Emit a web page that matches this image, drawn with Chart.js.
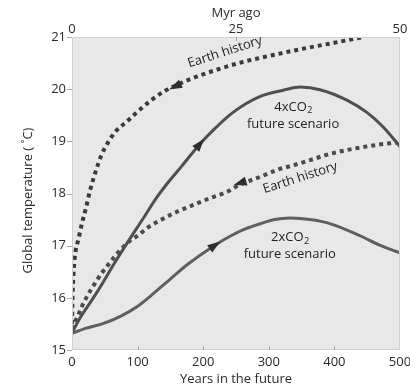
<!DOCTYPE html>
<html><head><meta charset="utf-8">
<script src="https://cdn.jsdelivr.net/npm/chart.js@4"></script>
<style>html,body{margin:0;padding:0;background:#fff;}#wrap{width:410px;height:389px;}</style>
</head><body><div id="wrap"><canvas id="c" width="410" height="389"></canvas></div>
<script>
// ---------- data ----------
const yearTicksMax = 500;         // bottom axis: years in the future
const myrTicksMax = 50;           // top axis: Myr ago
const tempMin = 15, tempMax = 21; // y axis (°C)
const yTitle = 'Global temperature ( ˚C)';

// Earth history (upper dotted), x = Myr ago
const earthUpperMyr  = [0, 0.05, 0.15, 0.3, 0.55, 0.96, 1.5, 2.1, 2.8, 3.6, 4.5, 5.5, 6.8, 8.3, 10.0, 12.0, 14.2, 16.5, 19.0, 22.0, 26.0, 30.5, 35.0, 40.0, 44.5];
const earthUpperTemp = [15.5, 15.85, 16.25, 16.6, 16.9, 17.11, 17.42, 17.71, 18.08, 18.42, 18.74, 18.98, 19.21, 19.37, 19.57, 19.78, 19.97, 20.11, 20.24, 20.37, 20.52, 20.65, 20.77, 20.89, 21.0];

// Earth history (lower dotted), x = Myr ago
const earthLowerMyr  = [0, 0.46, 0.96, 1.48, 2.13, 2.85, 3.66, 4.5, 5.5, 6.55, 8.6, 10.1, 11.6, 13.2, 16.0, 18.5, 21.0, 23.6, 25.6, 28.7, 31.2, 33.7, 36.3, 38.8, 41.4, 43.9, 46.4, 49.6];
const earthLowerTemp = [15.4, 15.54, 15.67, 15.83, 15.99, 16.15, 16.31, 16.47, 16.63, 16.8, 17.07, 17.2, 17.35, 17.47, 17.65, 17.78, 17.91, 18.03, 18.17, 18.32, 18.45, 18.54, 18.64, 18.74, 18.82, 18.88, 18.93, 18.98];

// 4xCO2 future scenario, x = years
const co2x4Years = [0, 12, 32, 48, 63, 83, 109, 129, 147, 167, 195, 215, 245, 287, 322, 348, 378, 419, 450, 474, 500];
const co2x4Temp  = [15.33, 15.61, 15.99, 16.31, 16.63, 17.03, 17.53, 17.92, 18.22, 18.52, 18.95, 19.21, 19.55, 19.86, 19.98, 20.04, 19.99, 19.79, 19.55, 19.28, 18.9];

// 2xCO2 future scenario, x = years
const co2x2Years = [0, 22, 48, 73, 99, 124, 149, 175, 218, 241, 264, 287, 309, 332, 355, 378, 401, 439, 469, 500];
const co2x2Temp  = [15.32, 15.42, 15.51, 15.64, 15.83, 16.08, 16.35, 16.63, 17.01, 17.18, 17.32, 17.42, 17.50, 17.53, 17.51, 17.47, 17.39, 17.19, 17.01, 16.86];

// direction arrows on the curves
const arrowAxis = ['x2', 'x2', 'x', 'x'];
const arrowAt   = [[15.7, 20.05], [25.6, 18.2], [195, 18.95], [218, 17.01]];
const arrowFrom = [[18.5, 20.22], [29.0, 18.33], [167, 18.52], [175, 16.63]];

// curve labels
const labelText = [['Earth history'], ['Earth history'], ['4xCO', '2', 'future scenario'], ['2xCO', '2', 'future scenario']];
const labelAxis = ['x2', 'x2', 'x', 'x'];
const labelPos  = [[23.3, 20.71], [34.8, 18.3], [337, 19.66], [332, 17.16]];
const labelRot  = [-18, -18, 0, 0];

const pts = (xs, ys) => xs.map((x, i) => ({x, y: ys[i]}));
const FONT = "'Open Sans', sans-serif";

const decor = {
  id: 'decor',
  beforeDatasetsDraw(chart) {
    const {ctx, chartArea: a} = chart;
    ctx.save();
    ctx.fillStyle = '#e8e8e8';
    ctx.fillRect(a.left, a.top, a.right - a.left, a.bottom - a.top);
    ctx.restore();
  },
  afterDraw(chart) {
    const {ctx, chartArea: a, scales} = chart;
    ctx.save();
    ctx.strokeStyle = '#cfcfcf'; ctx.lineWidth = 1;
    ctx.strokeRect(a.left + 0.5, a.top + 0.5, a.right - a.left - 1, a.bottom - a.top - 1);
    ctx.strokeStyle = '#a8a8a8';
    ctx.beginPath();
    scales.x.ticks.forEach(t => { if (t.value > 0 && t.value < yearTicksMax) { const p = Math.round(scales.x.getPixelForValue(t.value)) + 0.5; ctx.moveTo(p, a.bottom); ctx.lineTo(p, a.bottom - 4); } });
    scales.x2.ticks.forEach(t => { if (t.value > 0 && t.value < myrTicksMax) { const p = Math.round(scales.x2.getPixelForValue(t.value)) + 0.5; ctx.moveTo(p, a.top); ctx.lineTo(p, a.top + 4); } });
    scales.y.ticks.forEach(t => { const p = Math.round(scales.y.getPixelForValue(t.value)) + 0.5; ctx.moveTo(a.left - 5, p); ctx.lineTo(a.left, p); });
    ctx.stroke();
    // y-axis title (slightly below the axis centre, as in the reference)
    ctx.save();
    ctx.fillStyle = '#2a2a2a'; ctx.font = '13px ' + FONT;
    ctx.textAlign = 'center'; ctx.textBaseline = 'middle';
    ctx.translate(28, (a.top + a.bottom) / 2 + 7);
    ctx.rotate(-Math.PI / 2);
    ctx.fillText(yTitle, 0, 0);
    ctx.restore();
    ctx.fillStyle = '#2e2e2e';
    arrowAt.forEach((at, i) => {
      const xs = scales[arrowAxis[i]], ys = scales.y;
      const px = xs.getPixelForValue(at[0]), py = ys.getPixelForValue(at[1]);
      const fx = xs.getPixelForValue(arrowFrom[i][0]), fy = ys.getPixelForValue(arrowFrom[i][1]);
      let dx = px - fx, dy = py - fy; const L = Math.hypot(dx, dy); dx /= L; dy /= L;
      const len = 6.5, hw = 4.5;
      ctx.beginPath();
      ctx.moveTo(px + dx * len, py + dy * len);
      ctx.lineTo(px - dx * len - dy * hw, py - dy * len + dx * hw);
      ctx.lineTo(px - dx * len + dy * hw, py - dy * len - dx * hw);
      ctx.closePath(); ctx.fill();
    });
    ctx.fillStyle = '#1e1e1e';
    ctx.textBaseline = 'middle';
    labelText.forEach((parts, i) => {
      const xs = scales[labelAxis[i]];
      const cx = xs.getPixelForValue(labelPos[i][0]), cy = scales.y.getPixelForValue(labelPos[i][1]);
      ctx.save();
      ctx.translate(cx, cy);
      ctx.rotate(labelRot[i] * Math.PI / 180);
      if (parts.length === 1) {
        ctx.font = '13px ' + FONT; ctx.textAlign = 'center';
        ctx.fillText(parts[0], 0, 0);
      } else {
        ctx.textAlign = 'left';
        ctx.font = '13px ' + FONT; const w1 = ctx.measureText(parts[0]).width;
        ctx.font = '9px ' + FONT; const w2 = ctx.measureText(parts[1]).width;
        const sx = -(w1 + w2) / 2;
        ctx.font = '13px ' + FONT; ctx.fillText(parts[0], sx, 0);
        ctx.font = '9px ' + FONT; ctx.fillText(parts[1], sx + w1 + 0.5, 4);
        ctx.font = '13px ' + FONT; ctx.textAlign = 'center';
        ctx.fillText(parts[2], 0, 17);
      }
      ctx.restore();
    });
    ctx.restore();
  }
};

const tickFont = {family: FONT, size: 13};
new Chart(document.getElementById('c'), {
  type: 'line',
  data: {
    datasets: [
      {data: pts(co2x2Years, co2x2Temp), xAxisID: 'x', borderColor: '#5f5f5f', borderWidth: 3},
      {data: pts(co2x4Years, co2x4Temp), xAxisID: 'x', borderColor: '#4f4f4f', borderWidth: 3},
      {data: pts(earthLowerMyr, earthLowerTemp), xAxisID: 'x2', borderColor: '#4a4a4a', borderWidth: 4, borderDash: [4, 4]},
      {data: pts(earthUpperMyr, earthUpperTemp), xAxisID: 'x2', borderColor: '#3a3a3a', borderWidth: 4, borderDash: [4, 4]}
    ]
  },
  options: {
    responsive: false, devicePixelRatio: 1, animation: false,
    layout: {padding: {left: 0, top: 0, bottom: 0, right: 10}},
    elements: {point: {radius: 0}, line: {cubicInterpolationMode: 'monotone', fill: false, borderCapStyle: 'butt'}},
    plugins: {legend: {display: false}, tooltip: {enabled: false}},
    scales: {
      x: {
        type: 'linear', position: 'bottom', min: 0, max: yearTicksMax,
        ticks: {stepSize: 100, font: tickFont, color: '#2a2a2a', padding: 4, maxRotation: 0},
        grid: {display: false, drawTicks: false}, border: {display: false},
        title: {display: true, text: 'Years in the future', font: tickFont, color: '#2a2a2a', padding: {top: 0, bottom: 2}},
        afterFit(s) { s.height = 39; s.paddingLeft = 0; s.paddingRight = 0; }
      },
      x2: {
        type: 'linear', position: 'top', min: 0, max: myrTicksMax,
        ticks: {stepSize: 25, font: tickFont, color: '#2a2a2a', padding: 0, maxRotation: 0},
        grid: {display: false, drawTicks: false}, border: {display: false},
        title: {display: true, text: 'Myr ago', font: tickFont, color: '#2a2a2a', padding: {top: 5, bottom: 0}},
        afterFit(s) { s.height = 37; s.paddingLeft = 0; s.paddingRight = 0; }
      },
      y: {
        type: 'linear', position: 'left', min: tempMin, max: tempMax,
        ticks: {stepSize: 1, font: tickFont, color: '#2a2a2a', padding: 6},
        grid: {display: false, drawTicks: false}, border: {display: false},
        title: {display: false},
        afterFit(s) { s.width = 72; s.paddingTop = 0; s.paddingBottom = 0; }
      }
    }
  },
  plugins: [decor]
});
</script></body></html>
